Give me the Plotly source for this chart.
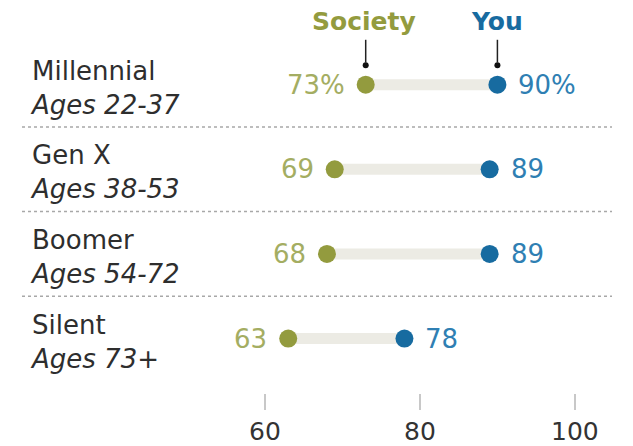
import plotly.graph_objects as go

# Share saying generation is "very/somewhat" ... : society vs. you
generations = ["Millennial", "Gen X", "Boomer", "Silent"]
age_ranges = ["Ages 22-37", "Ages 38-53", "Ages 54-72", "Ages 73+"]
society = [73, 69, 68, 63]
you = [90, 89, 89, 78]
tick_values = [60, 80, 100]

OLIVE = "#939b3e"
OLIVE_TEXT = "#a4ad62"
BLUE = "#176ba0"
BLUE_TEXT = "#2f7fb3"
BAR = "#ecebe4"
FONT = "DejaVu Sans"

rows = list(range(len(generations)))

fig = go.Figure()

# connecting bars
for i in rows:
    fig.add_trace(go.Scatter(
        x=[society[i], you[i]], y=[i, i], mode="lines",
        line=dict(color=BAR, width=11), hoverinfo="skip", showlegend=False))

fig.add_trace(go.Scatter(
    x=society, y=rows, mode="markers", name="Society",
    marker=dict(color=OLIVE, size=18, line=dict(width=0)), showlegend=False))
fig.add_trace(go.Scatter(
    x=you, y=rows, mode="markers", name="You",
    marker=dict(color=BLUE, size=18, line=dict(width=0)), showlegend=False))

annotations = []
for i in rows:
    suffix = "%" if i == 0 else ""
    annotations.append(dict(
        x=society[i], y=i, xref="x", yref="y", text=f"{society[i]}{suffix}",
        showarrow=False, xanchor="right", yanchor="middle", xshift=-19,
        font=dict(family=FONT, size=26, color=OLIVE_TEXT)))
    annotations.append(dict(
        x=you[i], y=i, xref="x", yref="y", text=f"{you[i]}{suffix}",
        showarrow=False, xanchor="left", yanchor="middle", xshift=19,
        font=dict(family=FONT, size=26, color=BLUE_TEXT)))
    annotations.append(dict(
        x=28 / 633, y=i, xref="paper", yref="y", yshift=-3,
        text=f"{generations[i]}<br><i>{age_ranges[i]}</i>",
        showarrow=False, xanchor="left", yanchor="middle", align="left",
        font=dict(family=FONT, size=26, color="#2e2e2e")))

# series headers with pointers to the first row
annotations.append(dict(
    x=society[0], y=-0.75, xref="x", yref="y", text="<b>Society</b>",
    showarrow=False, xanchor="center", yanchor="middle", xshift=-2,
    font=dict(family=FONT, size=25, color=OLIVE)))
annotations.append(dict(
    x=you[0], y=-0.75, xref="x", yref="y", text="<b>You</b>",
    showarrow=False, xanchor="center", yanchor="middle",
    font=dict(family=FONT, size=25, color=BLUE)))

shapes = []
for v in (society[0], you[0]):
    shapes.append(dict(type="line", xref="x", yref="y", x0=v, x1=v,
                       y0=-0.53, y1=-0.26, line=dict(color="#222", width=1.5)))
fig.add_trace(go.Scatter(
    x=[society[0], you[0]], y=[-0.23, -0.23], mode="markers",
    marker=dict(color="#111", size=6), hoverinfo="skip", showlegend=False))

# dotted separators between rows
for i in rows[:-1]:
    shapes.append(dict(type="line", xref="paper", yref="y",
                       x0=22 / 633, x1=612 / 633, y0=i + 0.5, y1=i + 0.5,
                       line=dict(color="#a8a8a8", width=1.5, dash="dot")))

fig.update_layout(
    width=633, height=446,
    margin=dict(l=0, r=0, t=0, b=49),
    paper_bgcolor="white", plot_bgcolor="white",
    annotations=annotations, shapes=shapes,
    xaxis=dict(range=[25.8, 107.5], tickvals=tick_values,
               ticks="outside", ticklen=16, tickwidth=1.5, tickcolor="#c8c8c8",
               showgrid=False, zeroline=False, showline=False,
               tickfont=dict(family=FONT, size=25, color="#333")),
    yaxis=dict(range=[3.643, -1.0], showgrid=False, zeroline=False,
               showticklabels=False, showline=False),
)

fig.write_html("out.html")
